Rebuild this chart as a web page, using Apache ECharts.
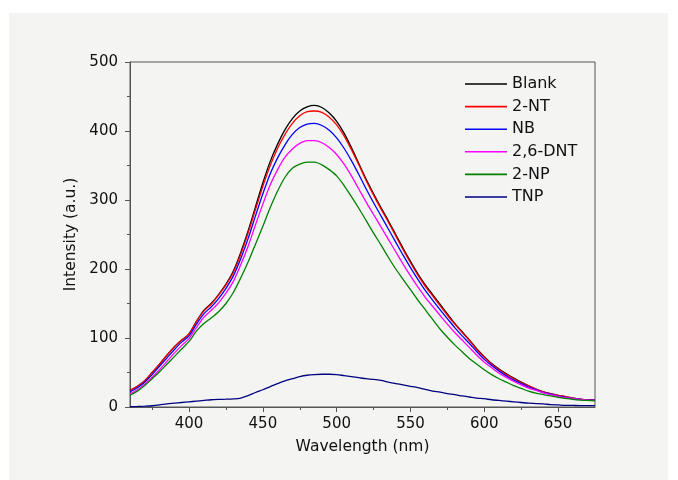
<!DOCTYPE html>
<html><head><meta charset="utf-8">
<script src="https://cdn.jsdelivr.net/npm/echarts@6/dist/echarts.min.js"></script>
<style>
html,body{margin:0;padding:0;background:#fff}
#wrap{position:relative;width:678px;height:480px;background:#fff}
#bg{position:absolute;left:9px;top:13px;width:659px;height:467px;background:#f4f4f3}
#c{position:absolute;left:0;top:0;width:678px;height:480px}
</style>
</head><body><div id="wrap"><div id="bg"></div><div id="c"></div></div>
<script>
const wavelength = [360,365,370,375,380,385,390,395,400,405,410,415,420,425,430,435,440,445,450,455,460,465,470,475,480,485,490,495,500,505,510,515,520,525,530,535,540,545,550,555,560,565,570,575,580,585,590,595,600,605,610,615,620,625,630,635,640,645,650,655,660,665,670,675];
const blank = [24,30,38,50,62,75,87,97,106,124,140,150,163,178,197,224,255,290,325,356,381,402,418,429,435,437,434,426,414,397,376,353,330,309,289,270,250,230,211,193,177,163,149,135,121,109,97,84,73,63,55,48,42,36,31,26,22,19.5,17,15,13,11.5,10.5,10];
const nt2 = [24,30,38,50,62,75,87,97,106,124,139,149,162,177,195,221,252,286,320,350,375,395,411,422,428,429,427,420,409,393,373,351,328,307,287,268,248,228,209,191,175,161,147,133,120,108,96,83,72,62,54,47,41,35.5,30.5,26,22,19,17,15,13,11.5,10.5,10];
const nb = [22,28,36,47,59,71,83,94,103,120,135,145,157,172,190,215,244,277,309,338,361,380,395,405,410,411,408,401,390,375,357,337,316,296,277,258,239,220,202,185,169,155,141,128,115,103,92,80,69,60,52,45,39,34,29,25,21,18.5,16,14,12.5,11,10,9.8];
const dnt26 = [19,25,33,43,54,66,78,89,99,115,130,140,151,165,182,206,233,264,294,322,344,362,374,382,386,386,383,376,366,352,335,316,297,279,261,243,225,207,190,174,159,146,133,120,108,97,86,75,65,57,49,43,37,32,27.5,24,20.5,18,15.5,13.5,12,11,10,9.5];
const np2 = [17,23,31,41,51,62,73,84,95,110,121,129,138,150,166,187,210,236,262,289,313,333,346,352,355,355,351,344,335,321,305,288,270,252,235,217,200,185,170,155,141,127,113,101,90,80,70,62,54,47,41,36,31,27,23,20,18,16,14,12.5,11,10,9.5,9];
const tnp = [0.5,0.8,1.2,1.8,3,4.5,5.5,6.5,7.5,8.5,9.5,10.5,11,11.3,11.8,13,16.5,21,25,29.5,34,38,41,44,46,47,47.5,47.5,47,45.5,44,42.5,41,40,38.5,36,34,32,30,28,25.5,23,21.5,19.5,18,16,14.5,13,12,10.5,9.5,8.5,7.5,6.5,5.5,5,4.5,3.5,3,2.5,2.3,2,2,2];
const seriesNames = ['Blank','2-NT','NB','2,6-DNT','2-NP','TNP'];
const xTickLabels = [400,450,500,550,600,650];
const xMinorTicks = [375,425,475,525,575,625];

const seriesValues = [blank, nt2, nb, dnt26, np2, tnp];
const colors = ['#000000','#ff0000','#0000ff','#ff00ff','#008000','#000080'];
const font = '"DejaVu Sans", Verdana, sans-serif';
const axisColor = '#555555';
const textColor = '#111111';

const chart = echarts.init(document.getElementById('c'), null, {renderer:'canvas'});
const option = {
  backgroundColor: 'transparent',
  animation: false,
  grid: {left:130, right:83, top:62, bottom:73, show:true, borderColor:axisColor, borderWidth:1, backgroundColor:'transparent'},
  legend: {
    orient:'vertical', left:460, top:71,
    icon:'rect', itemWidth:42, itemHeight:1.6, itemGap:6.6,
    data: seriesNames,
    textStyle:{fontSize:16, lineHeight:16, fontFamily:font, color:textColor}
  },
  xAxis: [{
    type:'value', min:360, max:675,
    name:'Wavelength (nm)', nameLocation:'middle', nameGap:32,
    nameTextStyle:{fontSize:15.5, fontFamily:font, color:textColor},
    axisLine:{show:true, onZero:false, lineStyle:{color:axisColor}},
    axisTick:{show:true, length:5, customValues:xTickLabels, lineStyle:{color:axisColor}},
    axisLabel:{customValues:xTickLabels, fontSize:15, margin:10, color:textColor, fontFamily:font},
    splitLine:{show:false}
  },{
    type:'value', min:360, max:675, position:'bottom', gridIndex:0,
    axisLine:{show:false},
    axisTick:{show:true, length:3, customValues:xMinorTicks, lineStyle:{color:axisColor}},
    axisLabel:{show:false}, splitLine:{show:false}
  }],
  yAxis: {
    type:'value', min:0, max:500, interval:100,
    name:'Intensity (a.u.)', nameLocation:'middle', nameGap:50,
    nameTextStyle:{fontSize:15.5, fontFamily:font, color:textColor},
    axisLine:{show:true, onZero:false, lineStyle:{color:axisColor}},
    axisTick:{show:true, length:5, lineStyle:{color:axisColor}},
    minorTick:{show:true, splitNumber:2, length:3, lineStyle:{color:axisColor}},
    axisLabel:{fontSize:15, margin:12, color:textColor, fontFamily:font},
    splitLine:{show:false}
  },
  series: seriesNames.map((name,k)=>({
    type:'line', name:name, xAxisIndex:0,
    data: wavelength.map((w,i)=>[w, seriesValues[k][i]]),
    symbol:'none', showSymbol:false, smooth:0.3,
    lineStyle:{width:1.3, color:colors[k]},
    itemStyle:{color:colors[k]}
  }))
};
chart.setOption(option);
</script>
</body></html>
